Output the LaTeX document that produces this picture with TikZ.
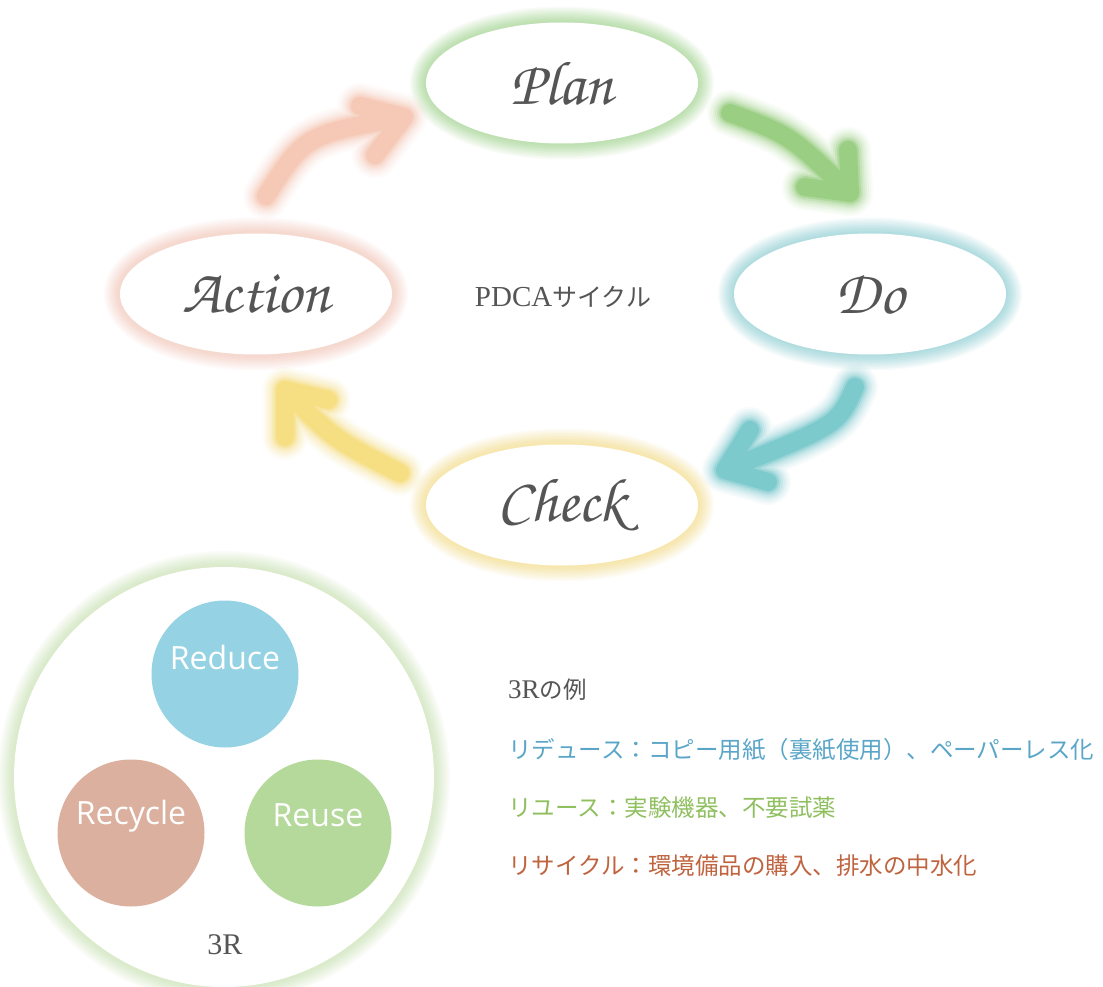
\documentclass[tikz,border=0pt]{standalone}
\usepackage[T1]{fontenc}
\usepackage{fontspec}
\usetikzlibrary{shapes.geometric}
\newfontfamily\cjk{Noto Sans CJK JP}
\newfontfamily\serifl{Liberation Serif}
\newfontfamily\sansf{Open Sans}
\newcommand\chan{\fontencoding{T1}\fontfamily{pzc}\fontseries{mb}\fontshape{it}\selectfont}
\definecolor{textgray}{HTML}{555555}
\definecolor{glowgreen}{HTML}{9ED48A}
\definecolor{glowteal}{HTML}{8CCFD4}
\definecolor{glowyellow}{HTML}{F7DE86}
\definecolor{glowsalmon}{HTML}{F5C6B6}
\definecolor{glowlg}{HTML}{C8E2B2}
\definecolor{arrgreen}{HTML}{8CC971}
\definecolor{arrteal}{HTML}{6BC3C6}
\definecolor{arryellow}{HTML}{F6DA70}
\definecolor{arrsalmon}{HTML}{F5C2AB}
\definecolor{reducecol}{HTML}{95D3E4}
\definecolor{recyclecol}{HTML}{DCB09E}
\definecolor{reusecol}{HTML}{B4D99A}
\definecolor{txtblue}{HTML}{5AA6C8}
\definecolor{txtgreen}{HTML}{8FBF5F}
\definecolor{txtbrown}{HTML}{C0643F}
\newcommand\softarrow[6]{%
  \foreach \w/\o in {46/0.05,42/0.06,38/0.08,34/0.1,30/0.14,26/0.2,22/0.35,18/0.6}{%
    \draw[draw=#1,line width=\w pt,opacity=\o,line cap=round,line join=round]
      (#2) .. controls (#3) .. (#4) (#5) -- (#4) -- (#6);}}
\tikzset{
  glow/.style={
    preaction={draw=#1,line width=32pt,opacity=0.07},
    preaction={draw=#1,line width=29pt,opacity=0.07},
    preaction={draw=#1,line width=26pt,opacity=0.08},
    preaction={draw=#1,line width=23pt,opacity=0.08},
    preaction={draw=#1,line width=20pt,opacity=0.09},
    preaction={draw=#1,line width=17pt,opacity=0.1},
    preaction={draw=#1,line width=14pt,opacity=0.1},
    preaction={draw=#1,line width=11pt,opacity=0.11},
    preaction={draw=#1,line width=8pt,opacity=0.12},
    preaction={draw=#1,line width=4pt,opacity=0.14}},
  phase/.style={ellipse, minimum width=272pt, minimum height=121pt, fill=white,
    inner sep=0pt, text=textgray, font=\chan\fontsize{62}{66}\selectfont},
  rcirc/.style={circle, minimum size=147pt, inner sep=0pt, fill=#1},
  rlabel/.style={text=white, font=\sansf\fontsize{32}{36}\selectfont, inner sep=0pt},
  listline/.style={anchor=west, inner sep=0pt, font=\cjk\fontsize{23.5}{28}\selectfont},
}
\begin{document}
\begin{tikzpicture}[x=1pt,y=-1pt]
\useasboundingbox[fill=white] (0,0) rectangle (1103,987);
% PDCA phases
\node[phase, glow=glowgreen] (plan) at (562,83) {Plan};
\node[phase, glow=glowteal] (do) at (870,294) {Do};
\node[phase, glow=glowyellow] (check) at (562,505) {Check};
\node[phase, glow=glowsalmon] (action) at (256,294) {Action};
\node[text=textgray, inner sep=0pt] (pdca) at (563,297)
  {{\serifl\fontsize{29}{32}\selectfont PDCA}{\cjk\fontsize{25}{30}\selectfont サイクル}};
% arrow coordinates
\coordinate (g1) at (730,113); \coordinate (gc) at (790,135); \coordinate (gt) at (850,193);
\coordinate (ga) at (848,150); \coordinate (gb) at (805,187);
\coordinate (t1) at (855,387); \coordinate (tc) at (838,425); \coordinate (tt) at (725,470);
\coordinate (ta) at (750,430); \coordinate (tb) at (768,482);
\coordinate (y1) at (400,473); \coordinate (yc) at (335,440); \coordinate (yt) at (285,390);
\coordinate (ya) at (328,400); \coordinate (yb) at (285,437);
\coordinate (s1) at (266,196); \coordinate (sc) at (305,135); \coordinate (st) at (404,117);
\coordinate (sa) at (360,106); \coordinate (sb) at (375,155);
\softarrow{arrgreen}{g1}{gc}{gt}{ga}{gb}
\softarrow{arrteal}{t1}{tc}{tt}{ta}{tb}
\softarrow{arryellow}{y1}{yc}{yt}{ya}{yb}
\softarrow{arrsalmon}{s1}{sc}{st}{sa}{sb}
% 3R
\node[circle, minimum size=420pt, inner sep=0pt, fill=white, glow=glowlg] (threeR) at (224,777) {};
\node[rcirc=reducecol] (reduce) at (225,674) {};
\node[rcirc=recyclecol] (recycle) at (131,833) {};
\node[rcirc=reusecol] (reuse) at (318,833) {};
\node[rlabel] (reduceT) at (225,657) {Reduce};
\node[rlabel] (recycleT) at (131,816) {Recycle};
\node[rlabel] (reuseT) at (318,815) {Reuse};
\node[text=textgray, font=\serifl\fontsize{30}{34}\selectfont, inner sep=0pt] (threeRT) at (225,945) {3R};
% examples
\node[listline, text=textgray] (ex0) at (508,690) {{\serifl\fontsize{27}{30}\selectfont 3R}の例};
\node[listline, text=txtblue] (ex1) at (508,750) {リデュース：コピー用紙（裏紙使用）、ペーパーレス化};
\node[listline, text=txtgreen] (ex2) at (508,808) {リユース：実験機器、不要試薬};
\node[listline, text=txtbrown] (ex3) at (508,866) {リサイクル：環境備品の購入、排水の中水化};
\end{tikzpicture}
\end{document}
